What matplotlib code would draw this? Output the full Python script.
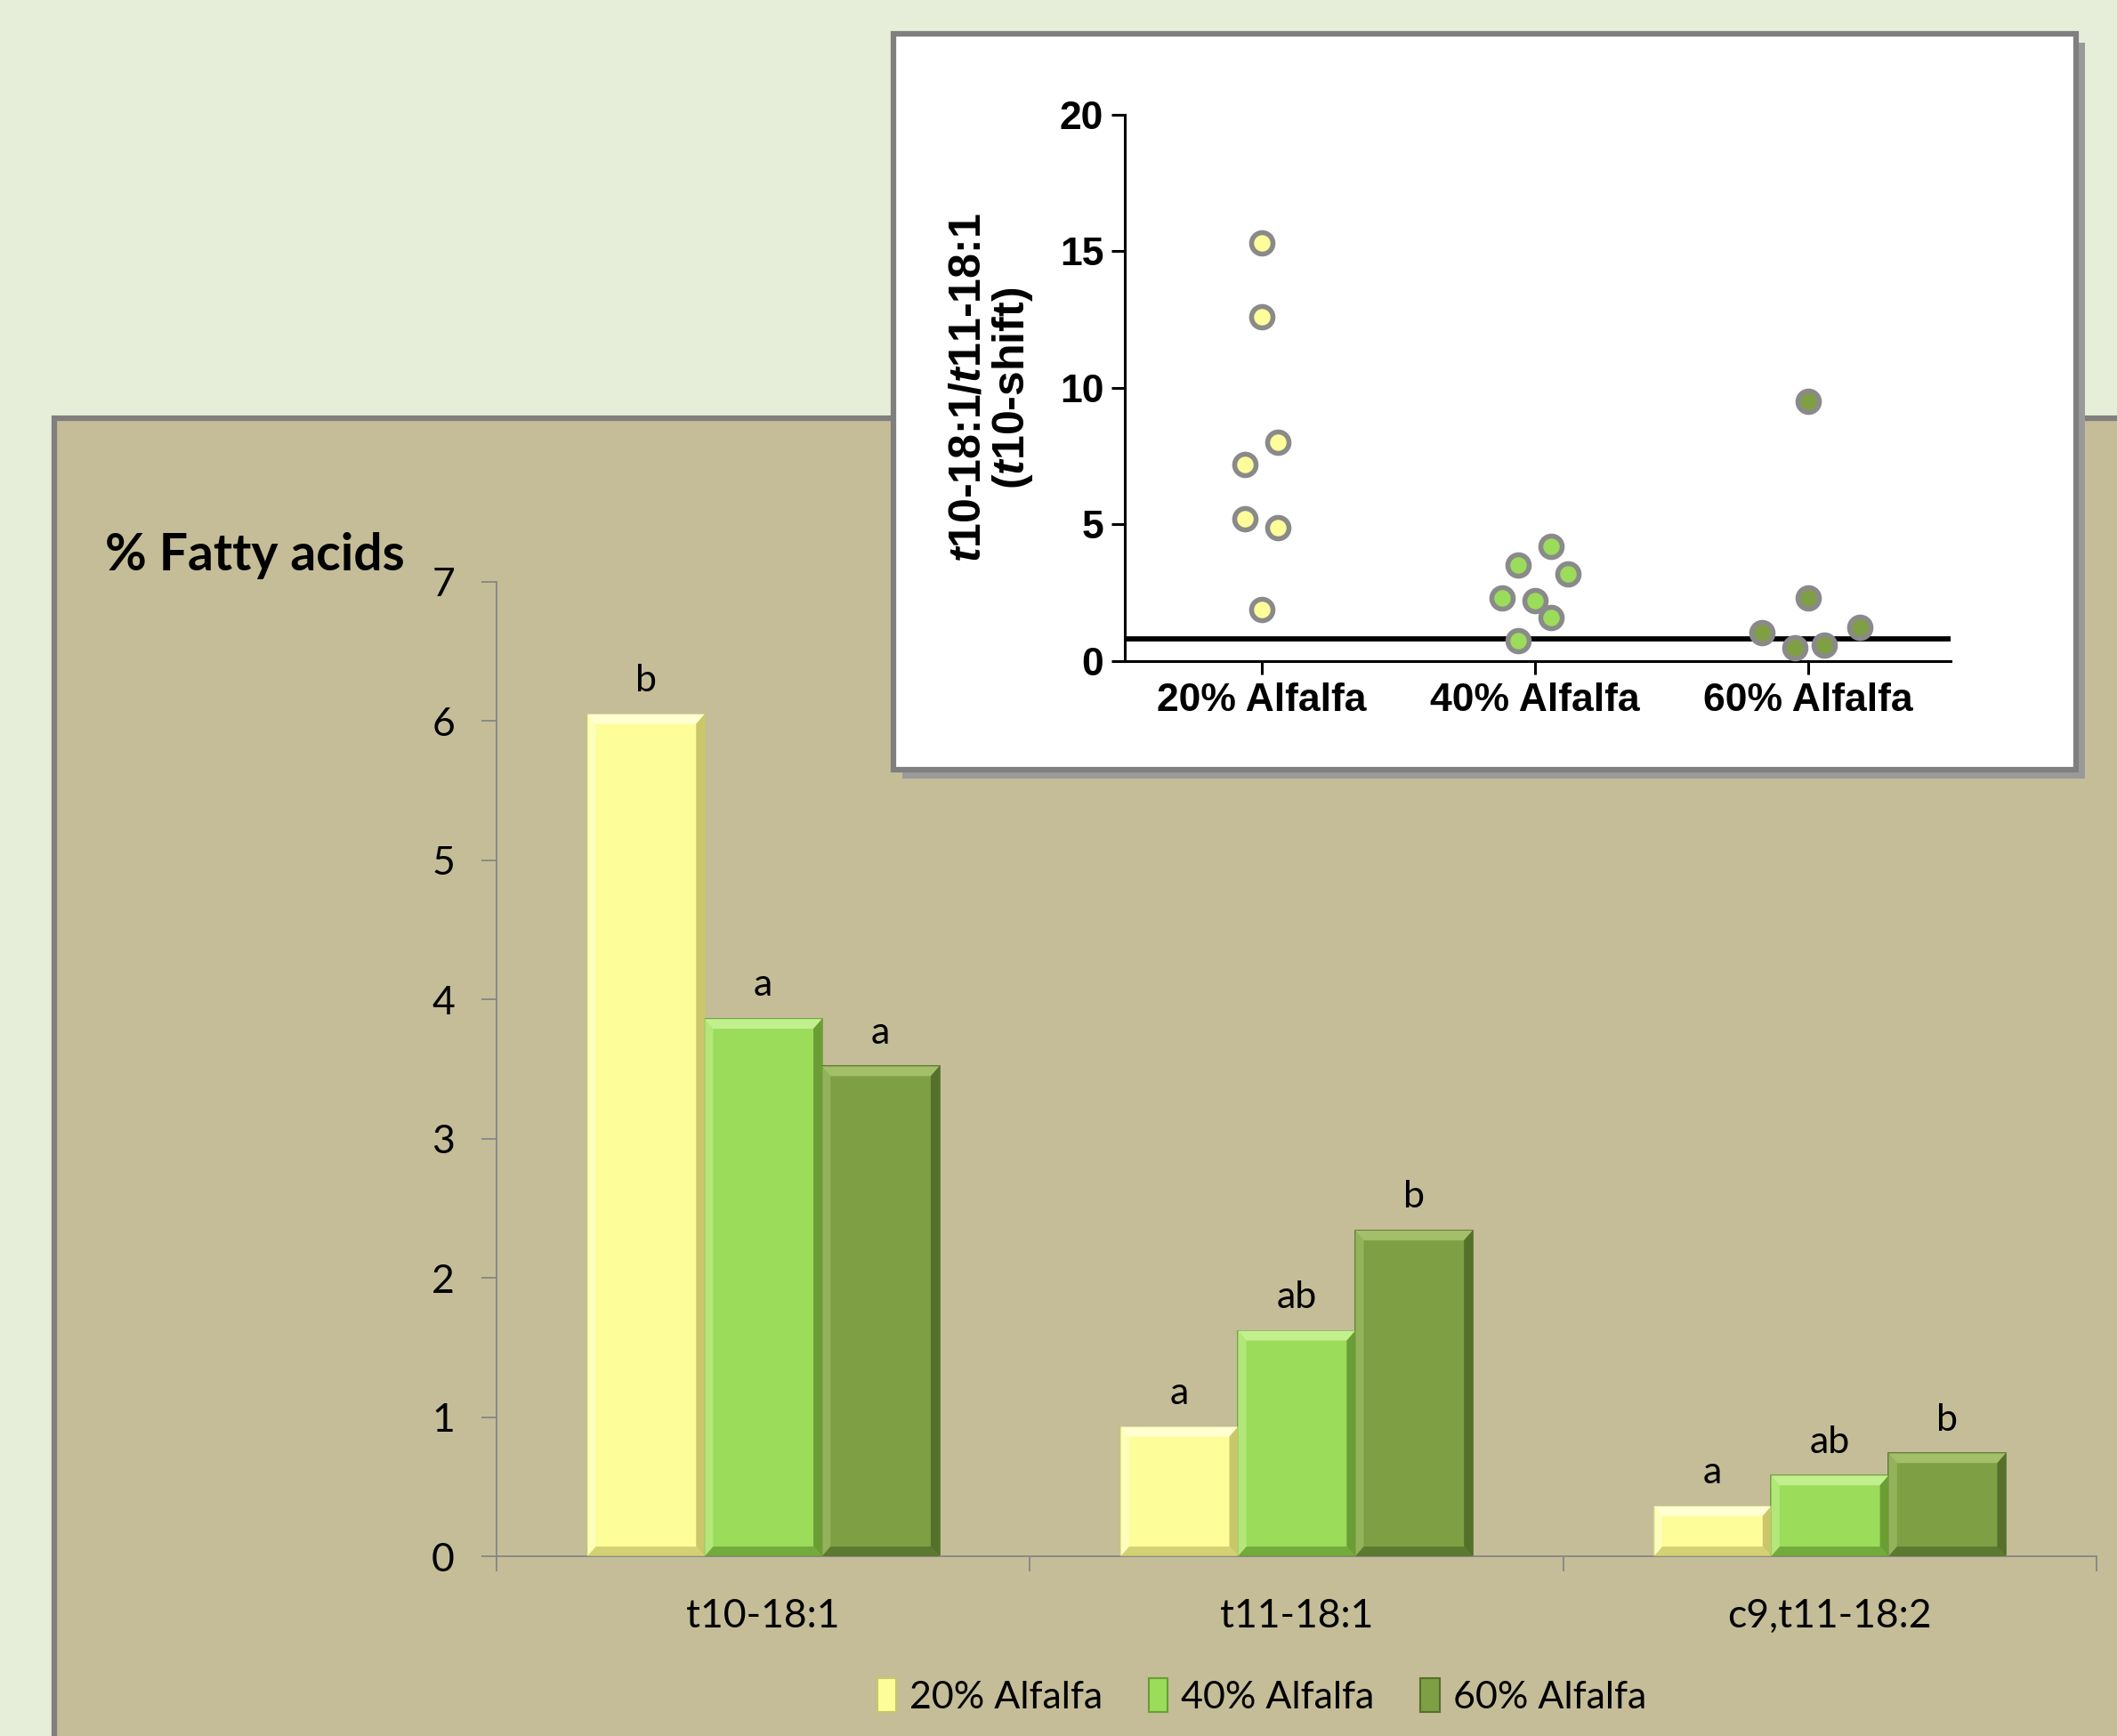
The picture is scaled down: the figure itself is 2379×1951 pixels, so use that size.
"""
Fatty acid bar chart with t10-shift scatter inset
"""

import matplotlib
matplotlib.use("Agg")
import matplotlib.pyplot as plt
from matplotlib.patches import Rectangle, Polygon
import numpy as np

# ═══════════════════════════════════════════════════════════
# Data
# ═══════════════════════════════════════════════════════════
groups = ["20% Alfalfa", "40% Alfalfa", "60% Alfalfa"]
fatty_acids = ["t10-18:1", "t11-18:1", "c9,t11-18:2"]

pct_20 = [6.05, 0.93, 0.36]
pct_40 = [3.86, 1.62, 0.58]
pct_60 = [3.52, 2.34, 0.74]

letters_20 = ["b", "a", "a"]
letters_40 = ["a", "ab", "ab"]
letters_60 = ["a", "b", "b"]

# t10-18:1 / t11-18:1 ratio per animal
ratio_20 = [15.3, 12.6, 8.0, 7.2, 5.2, 4.9, 1.9]
jitter_20 = [0.0, 0.0, 0.06, -0.06, -0.06, 0.06, 0.0]
ratio_40 = [4.2, 3.5, 3.2, 2.3, 2.2, 1.6, 0.75]
jitter_40 = [0.06, -0.06, 0.12, -0.12, 0.0, 0.06, -0.06]
ratio_60 = [9.5, 2.3, 1.05, 0.5, 0.6, 1.25]
jitter_60 = [0.0, 0.0, -0.17, -0.05, 0.06, 0.19]

shift_threshold = 0.8

colors = ["#FDFD9A", "#9BDC5B", "#7F9F44"]
light = ["#FFFFD2", "#C2F08E", "#A3BF6A"]
dark = ["#C9C76A", "#6A9E35", "#55702A"]

BG_TOP = "#E6EDD9"
PANEL = "#C4BD97"
GRAY = "#7F7F7F"

plt.rcParams['font.family'] = ['Lato', 'DejaVu Sans']
plt.rcParams['mathtext.fontset'] = 'custom'
plt.rcParams['mathtext.it'] = 'Liberation Sans:italic:bold'
plt.rcParams['mathtext.rm'] = 'Liberation Sans:bold'

fig = plt.figure(figsize=(23.79, 19.51), dpi=100, facecolor=BG_TOP)

# tan panel behind main chart
panel = Rectangle((61 / 2379, -0.05), 1.2, (1951 - 470) / 1951 + 0.05,
                  transform=fig.transFigure, facecolor=PANEL,
                  edgecolor=GRAY, linewidth=4.5, zorder=-1)
fig.add_artist(panel)

# ═══════════════════════════════════════════════════════════
# Main bar chart
# ═══════════════════════════════════════════════════════════
ax = fig.add_axes([0.2346, 0.1035, 0.7557, 0.5613])
ax.set_facecolor("none")

x = np.arange(len(fatty_acids))
w = 0.22
series = [pct_20, pct_40, pct_60]
letters = [letters_20, letters_40, letters_60]
dx = 0.016
dy = 0.07

for i, (vals, lab) in enumerate(zip(series, letters)):
    xs = x + (i - 1) * w
    ax.bar(xs, vals, width=w, color=colors[i], edgecolor=dark[i],
           linewidth=1.2, zorder=2)
    for xc, v, t in zip(xs, vals, lab):
        x0, x1 = xc - w / 2, xc + w / 2
        b = min(dy, v / 3)
        # bevel: top / left lighter, bottom / right darker
        ax.add_patch(Polygon([(x0, v), (x1, v), (x1 - dx, v - b), (x0 + dx, v - b)],
                             closed=True, facecolor=light[i], edgecolor="none", zorder=3))
        ax.add_patch(Polygon([(x0, 0), (x0, v), (x0 + dx, v - b), (x0 + dx, b)],
                             closed=True, facecolor=light[i], edgecolor="none",
                             alpha=0.6, zorder=3))
        ax.add_patch(Polygon([(x1, 0), (x1, v), (x1 - dx, v - b), (x1 - dx, b)],
                             closed=True, facecolor=dark[i], edgecolor="none", zorder=3))
        ax.add_patch(Polygon([(x0, 0), (x1, 0), (x1 - dx, b), (x0 + dx, b)],
                             closed=True, facecolor=dark[i], edgecolor="none",
                             alpha=0.8, zorder=3))
        ax.text(xc, v + 0.12, t, ha="center", va="bottom", fontsize=31, zorder=4)

ax.set_xlim(-0.5, 2.5)
ax.set_ylim(0, 7)
ax.set_yticks(range(0, 8))
ax.set_xticks(x)
ax.set_xticklabels(fatty_acids)
ax.set_xticks([-0.5, 0.5, 1.5, 2.5], minor=True)
ax.tick_params(axis="x", which="major", length=0, pad=34, labelsize=32)
ax.tick_params(axis="x", which="minor", length=12, width=1.3, color="#868686",
               direction="out")
ax.tick_params(axis="y", length=12, width=1.3, color="#868686", pad=22,
               labelsize=32)
for s in ["top", "right"]:
    ax.spines[s].set_visible(False)
for s in ["left", "bottom"]:
    ax.spines[s].set_color("#868686")
    ax.spines[s].set_linewidth(1.3)

fig.text(118 / 2379, 0.680, "% Fatty acids", fontsize=41, fontweight="bold",
         ha="left", va="center")

handles = [Rectangle((0, 0), 1, 1, facecolor=colors[i], edgecolor=dark[i],
                     linewidth=1.5) for i in range(3)]
fig.legend(handles, groups, loc="center", bbox_to_anchor=(0.596, 0.023),
           ncol=3, frameon=False, fontsize=31, handlelength=0.5,
           handleheight=1.0, handletextpad=0.35, columnspacing=1.2)

# ═══════════════════════════════════════════════════════════
# Inset: ratio scatter on white box
# ═══════════════════════════════════════════════════════════
box_l, box_r = 1004 / 2379, 2333 / 2379
box_t, box_b = 1 - 38 / 1951, 1 - 865 / 1951
shadow = Rectangle((box_l + 0.004, box_b - 0.005), box_r - box_l, box_t - box_b,
                   transform=fig.transFigure, facecolor="#9A9A9A",
                   edgecolor="none", zorder=1)
fig.add_artist(shadow)
box = Rectangle((box_l, box_b), box_r - box_l, box_t - box_b,
                transform=fig.transFigure, facecolor="white",
                edgecolor=GRAY, linewidth=4.5, zorder=1.1)
fig.add_artist(box)

iax = fig.add_axes([0.5313, 0.6192, 0.390, 0.3147], zorder=2)
iax.set_facecolor("none")

ratios = [ratio_20, ratio_40, ratio_60]
jitters = [jitter_20, jitter_40, jitter_60]
for i, (r, j) in enumerate(zip(ratios, jitters)):
    iax.scatter(np.full(len(r), i) + np.array(j), r, s=300, color=colors[i],
                edgecolor="#8A8A8A", linewidth=4.0, zorder=3, clip_on=False)

iax.axhline(shift_threshold, color="black", linewidth=4.2, zorder=2)
iax.set_xlim(-0.5, 2.52)
iax.set_ylim(0, 20)
iax.set_yticks([0, 5, 10, 15, 20])
iax.set_xticks(range(3))
iax.set_xticklabels(groups)
for s in ["top", "right"]:
    iax.spines[s].set_visible(False)
for s in ["left", "bottom"]:
    iax.spines[s].set_linewidth(2.2)
iax.tick_params(length=11, width=2.2, pad=6)
for lbl in iax.get_xticklabels() + iax.get_yticklabels():
    lbl.set_family(['Liberation Sans', 'DejaVu Sans'])
    lbl.set_fontweight("bold")
    lbl.set_fontsize(32)
iax.set_ylabel("$\\mathit{t}$10-18:1/$\\mathit{t}$11-18:1\n($\\mathit{t}$10-shift)",
               family=['Liberation Sans', 'DejaVu Sans'], fontweight="bold",
               fontsize=36, labelpad=20, linespacing=1.05)

fig.savefig("out.png", dpi=100, facecolor=fig.get_facecolor())
